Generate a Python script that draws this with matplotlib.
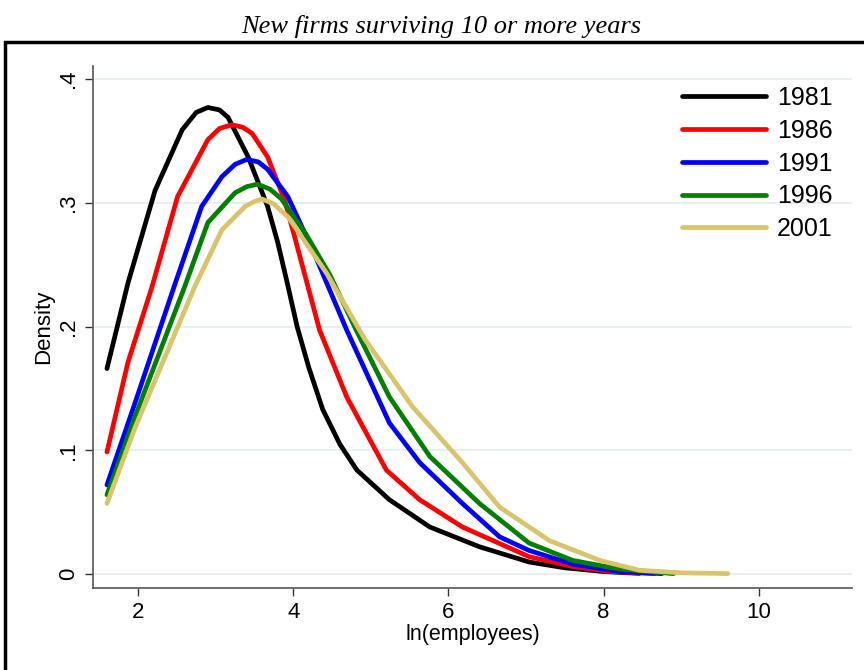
import matplotlib

matplotlib.use("Agg")
import matplotlib.pyplot as plt
from matplotlib.patches import Rectangle

# kernel density of ln(employees), read at selected points for each cohort
x1981 = [1.6, 1.87, 2.22, 2.57, 2.75, 2.9, 3.05, 3.16, 3.42, 3.67, 3.8, 3.92, 4.05, 4.2, 4.38, 4.6, 4.82, 5.24, 5.76, 6.4, 6.66, 7.04, 7.5, 8.0, 8.46]
y1981 = [.166, .235, .310, .359, .373, .377, .375, .369, .337, .297, .268, .236, .200, .167, .133, .105, .084, .060, .038, .022, .017, .0097, .005, .002, .0005]

x1986 = [1.6, 1.87, 2.18, 2.51, 2.9, 3.05, 3.21, 3.35, 3.47, 3.67, 3.89, 4.02, 4.34, 4.69, 5.2, 5.63, 6.18, 7.04, 7.6, 8.1, 8.65]
y1986 = [.0986, .171, .232, .305, .351, .360, .363, .361, .356, .337, .302, .272, .197, .143, .084, .060, .038, .014, .006, .002, .0003]

x1991 = [1.6, 1.96, 2.48, 2.82, 3.08, 3.25, 3.40, 3.55, 3.67, 3.93, 4.25, 4.69, 5.24, 5.63, 6.18, 6.66, 7.04, 7.6, 8.2, 8.75]
y1991 = [.072, .138, .235, .297, .321, .331, .335, .333, .327, .305, .262, .197, .122, .090, .057, .030, .019, .008, .002, .0003]

x1996 = [1.6, 1.96, 2.6, 2.9, 3.25, 3.4, 3.54, 3.7, 3.85, 4.17, 4.47, 4.82, 5.24, 5.76, 6.4, 7.04, 7.6, 8.2, 8.9]
y1996 = [.064, .127, .232, .284, .308, .313, .315, .311, .303, .274, .242, .196, .143, .095, .057, .025, .011, .004, .0003]

x2001 = [1.6, 1.96, 2.73, 3.08, 3.38, 3.5, 3.60, 3.75, 3.94, 4.43, 4.92, 5.54, 6.18, 6.66, 7.04, 7.30, 7.95, 8.46, 9.0, 9.6]
y2001 = [.057, .118, .232, .278, .297, .301, .303, .299, .288, .243, .190, .135, .090, .054, .038, .027, .011, .003, .001, .0003]

years = ["1981", "1986", "1991", "1996", "2001"]
xs = [x1981, x1986, x1991, x1996, x2001]
ys = [y1981, y1986, y1991, y1996, y2001]
colors = ["black", "#ff0000", "#0000ff", "#008000", "#d9c46c"]

yticks = [0, .1, .2, .3, .4]
ytick_labels = ["0", ".1", ".2", ".3", ".4"]
xticks = [2, 4, 6, 8, 10]

plt.rcParams["font.family"] = ["Liberation Sans", "DejaVu Sans"]

fig = plt.figure(figsize=(8.64, 6.70), dpi=100, facecolor="white")
ax = fig.add_axes([93 / 864, 1 - 588 / 670, (852 - 93) / 864, (588 - 66) / 670])

for x, y, c, lab in zip(xs, ys, colors, years):
    ax.plot(x, y, color=c, lw=3.4, label=lab, solid_capstyle="round", solid_joinstyle="round")

ax.set_xlim(1.42, 11.2)
ax.set_ylim(-0.0113, 0.4105)
ax.set_xticks(xticks)
ax.set_yticks(yticks)
ax.set_yticklabels(ytick_labels, rotation=90, va="center")
ax.tick_params(axis="both", labelsize=16, length=6, width=1, color="#333333", pad=4)
ax.grid(axis="y", color="#e8eff2", lw=1.4)
ax.set_axisbelow(True)
for side in ("top", "right"):
    ax.spines[side].set_visible(False)
for side in ("left", "bottom"):
    ax.spines[side].set_color("#555555")
    ax.spines[side].set_linewidth(1.2)

ax.set_xlabel("ln(employees)", fontsize=15.5, labelpad=1)
ax.set_ylabel("Density", fontsize=16, labelpad=3)

ax.legend(loc="upper right", bbox_to_anchor=(0.994, 0.99), frameon=False, fontsize=18,
          handlelength=3.36, handletextpad=0.44, labelspacing=0.35, borderaxespad=0.2)

# outer graph frame and title
fig.patches.append(Rectangle((5 / 864, -0.05), 1.0, 1 - 42 / 670 + 0.05, transform=fig.transFigure,
                             fill=False, ec="black", lw=2.5, zorder=0))
fig.text(441 / 864, 1 - 26 / 670, "New firms surviving 10 or more years", ha="center", va="center",
         family="Liberation Serif", style="italic", fontsize=19)

fig.savefig("out.png", dpi=100, facecolor="white")
